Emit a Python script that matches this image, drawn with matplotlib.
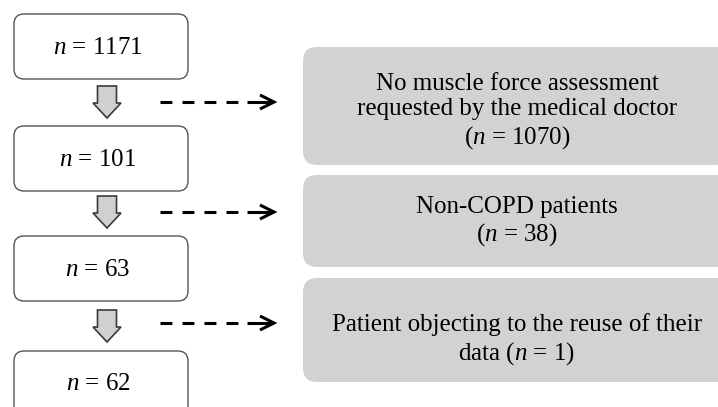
import matplotlib.pyplot as plt
from matplotlib.patches import FancyBboxPatch, Polygon

plt.rcParams['font.family'] = ['Liberation Serif', 'DejaVu Serif']
plt.rcParams['mathtext.fontset'] = 'custom'
plt.rcParams['mathtext.rm'] = 'Liberation Serif'
plt.rcParams['mathtext.it'] = 'Liberation Serif:italic'

# === Datos ===
counts = [1171, 101, 63, 62]
excluded = [1070, 38, 1]
excl_text = [
    "No muscle force assessment\nrequested by the medical doctor\n($n$ = {n})",
    "Non-COPD patients\n($n$ = {n})",
    "Patient objecting to the reuse of their\ndata ($n$ = {n})",
]

# === Layout (pixels, y hacia abajo) ===
left_x0, left_x1 = 14, 188
left_tops = [14, 126, 236, 351]
left_h = 65
right_x0, right_x1 = 303, 731
right_spans = [(47, 165), (175, 267), (278, 382)]
text_dy = [6, 1, 10]
arrow_tops = [86, 196, 310]
dash_ys = [102, 212, 323]

fig = plt.figure(figsize=(7.18, 4.07), dpi=100)
ax = fig.add_axes([0, 0, 1, 1])
ax.set_xlim(0, 718)
ax.set_ylim(407, 0)
ax.axis("off")

# Cajas de la izquierda
for top, n in zip(left_tops, counts):
    box = FancyBboxPatch((left_x0, top), left_x1 - left_x0, left_h,
                         boxstyle="round,pad=0,rounding_size=10",
                         fc="white", ec="#555555", lw=1.0)
    ax.add_patch(box)
    ax.text((left_x0 + left_x1) / 2 - 3, top + left_h / 2 + 1, f"$n$ = {n}",
            ha="center", va="center", fontsize=18)

# Flechas huecas
cx = 107
for top in arrow_tops:
    sw, hw, hl, L = 9.5, 14, 15, 32
    pts = [(cx - sw, top), (cx + sw, top), (cx + sw, top + L - hl),
           (cx + hw, top + L - hl), (cx, top + L), (cx - hw, top + L - hl),
           (cx - sw, top + L - hl)]
    ax.add_patch(Polygon(pts, closed=True, fc="#d0d0d0", ec="#3a3a3a", lw=1.2))

# Flechas discontinuas
for y in dash_ys:
    ax.plot([160, 238], [y, y], color="black", lw=2.2, linestyle=(0, (3.9, 3.3)),
            dash_capstyle="butt")
    ax.plot([247, 273], [y, y], color="black", lw=2.2, solid_capstyle="butt")
    ax.plot([260, 274, 260], [y - 7, y, y + 7], color="black", lw=2.2,
            solid_joinstyle="miter", solid_capstyle="butt")

# Cajas grises de exclusión
for (t, b), txt, n, dy in zip(right_spans, excl_text, excluded, text_dy):
    box = FancyBboxPatch((right_x0, t), right_x1 - right_x0, b - t,
                         boxstyle="round,pad=0,rounding_size=14",
                         fc="#d3d1d1", ec="none")
    ax.add_patch(box)
    ax.text((right_x0 + right_x1) / 2, (t + b) / 2 + dy, txt.format(n=n),
            ha="center", va="center", fontsize=18, linespacing=1.2)

plt.savefig("out.png", dpi=100)
